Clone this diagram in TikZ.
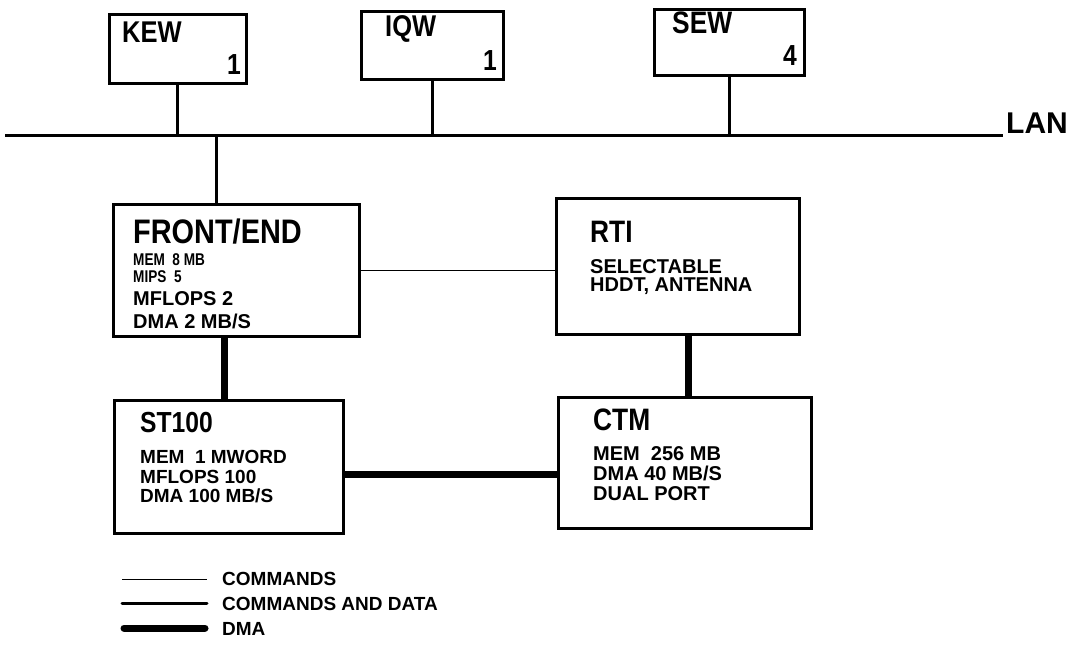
\documentclass[tikz,border=0pt]{standalone}
\usepackage{fontspec}
\setmainfont{Liberation Sans}
\newfontfamily\titlefont[FakeStretch=0.85]{Liberation Sans}
\newfontfamily\narrowfont[FakeStretch=0.8]{Liberation Sans}
\usetikzlibrary{positioning,calc}
\tikzset{
  unitbox/.style={draw,line width=2.5pt,inner sep=0pt,anchor=north west},
  boxtitle/.style={anchor=base west,inner sep=0pt,
    font=\titlefont\bfseries\fontsize{#1}{#1}\selectfont},
  boxtitle/.default=30,
  boxcount/.style={anchor=base east,inner sep=0pt,
    font=\titlefont\bfseries\fontsize{29}{29}\selectfont},
  boxtext/.style={anchor=base west,inner sep=0pt,
    font=\bfseries\fontsize{#1}{#1}\selectfont},
  boxtext/.default=20,
  narrowtext/.style={anchor=base west,inner sep=0pt,
    font=\narrowfont\bfseries\fontsize{17}{17}\selectfont},
  lanline/.style={line width=3pt},
  cmdline/.style={line width=1pt},
  dataline/.style={line width=3pt},
  dmaline/.style={line width=7pt},
}

\begin{document}
\begin{tikzpicture}[x=1pt,y=-1pt]
    \useasboundingbox (0,0) rectangle (1079,665);
    \node[unitbox,minimum width=137pt,minimum height=69pt] (kew) at (108,13) {};
    \node[unitbox,minimum width=142pt,minimum height=68pt] (iqw) at (360,10) {};
    \node[unitbox,minimum width=150pt,minimum height=66pt] (sew) at (653,8) {};
    \node[boxtitle] (kewname) at (122,42) {KEW};
    \node[boxcount] (kewcount) at (241,74) {1};
    \node[boxtitle] (iqwname) at (385,36) {IQW};
    \node[boxcount] (iqwcount) at (497,70) {1};
    \node[boxtitle=31] (sewname) at (672,33) {SEW};
    \node[boxcount] (sewcount) at (797,65) {4};

    \coordinate (lanW) at (5,135);
    \coordinate (lanE) at (1003,135);
    \node[boxtext=30] (lan) at (1006,133) {LAN};
    \draw[lanline] (lanW) -- (lanE);
    \draw[dataline] (kew.south) -- (kew.south |- lanW);
    \draw[dataline] (iqw.south) -- (iqw.south |- lanW);
    \draw[dataline] (sew.south) -- (sew.south |- lanW);

    \node[unitbox,minimum width=246pt,minimum height=132pt] (fe) at (112,203) {};
    \node[boxtitle=34] (fename) at (133,243) {FRONT/END};
    \node[narrowtext] (femem) at (133,265) {MEM\ \ 8 MB};
    \node[narrowtext] (femips) at (133,282) {MIPS\ \ 5};
    \node[boxtext] (feflops) at (133,305) {MFLOPS 2};
    \node[boxtext] (fedma) at (133,328) {DMA 2 MB/S};
    \draw[dataline] ([xshift=-20pt]fe.north) -- ([xshift=-20pt]fe.north |- lanW);

    \node[unitbox,minimum width=243pt,minimum height=136pt] (rti) at (555,197) {};
    \node[boxtitle=31] (rtiname) at (590,242) {RTI};
    \node[boxtext] (rtisel) at (590,273) {SELECTABLE};
    \node[boxtext] (rtihddt) at (590,291) {HDDT, ANTENNA};

    \node[unitbox,minimum width=229pt,minimum height=133pt] (st) at (113,399) {};
    \node[boxtitle=29] (stname) at (140,432) {ST100};
    \node[boxtext=19] (stmem) at (140,463) {MEM\ \ 1 MWORD};
    \node[boxtext=19] (stflops) at (140,483) {MFLOPS 100};
    \node[boxtext=19] (stdma) at (140,502) {DMA 100 MB/S};

    \node[unitbox,minimum width=253pt,minimum height=131pt] (ctm) at (557,396) {};
    \node[boxtitle=31] (ctmname) at (593,430) {CTM};
    \node[boxtext] (ctmmem) at (593,460) {MEM\ \ 256 MB};
    \node[boxtext] (ctmdma) at (593,480) {DMA 40 MB/S};
    \node[boxtext] (ctmport) at (593,500) {DUAL PORT};

    \draw[cmdline] (fe.east) -- (fe.east -| rti.west);
    \draw[dmaline] ([xshift=-4pt]st.north) -- ([xshift=-4pt]st.north |- fe.south);
    \draw[dmaline] ([xshift=4pt]ctm.north) -- ([xshift=4pt]ctm.north |- rti.south);
    \draw[dmaline] ([yshift=-8pt]st.east) -- ([yshift=-8pt]st.east -| ctm.west);

    \coordinate (cmdA) at (122,579);
    \coordinate (cmdB) at (207,579);
    \coordinate (dataA) at (122,603);
    \coordinate (dataB) at (207,603);
    \coordinate (dmaA) at (124,628);
    \coordinate (dmaB) at (205,628);
    \draw[cmdline] (cmdA) -- (cmdB);
    \draw[dataline,line cap=round] (dataA) -- (dataB);
    \draw[dmaline,line cap=round] (dmaA) -- (dmaB);
    \node[boxtext=19] (cmdkey) at (222,585) {COMMANDS};
    \node[boxtext=19] (datakey) at (222,610) {COMMANDS AND DATA};
    \node[boxtext=19] (dmakey) at (222,635) {DMA};
  \end{tikzpicture}
\end{document}
